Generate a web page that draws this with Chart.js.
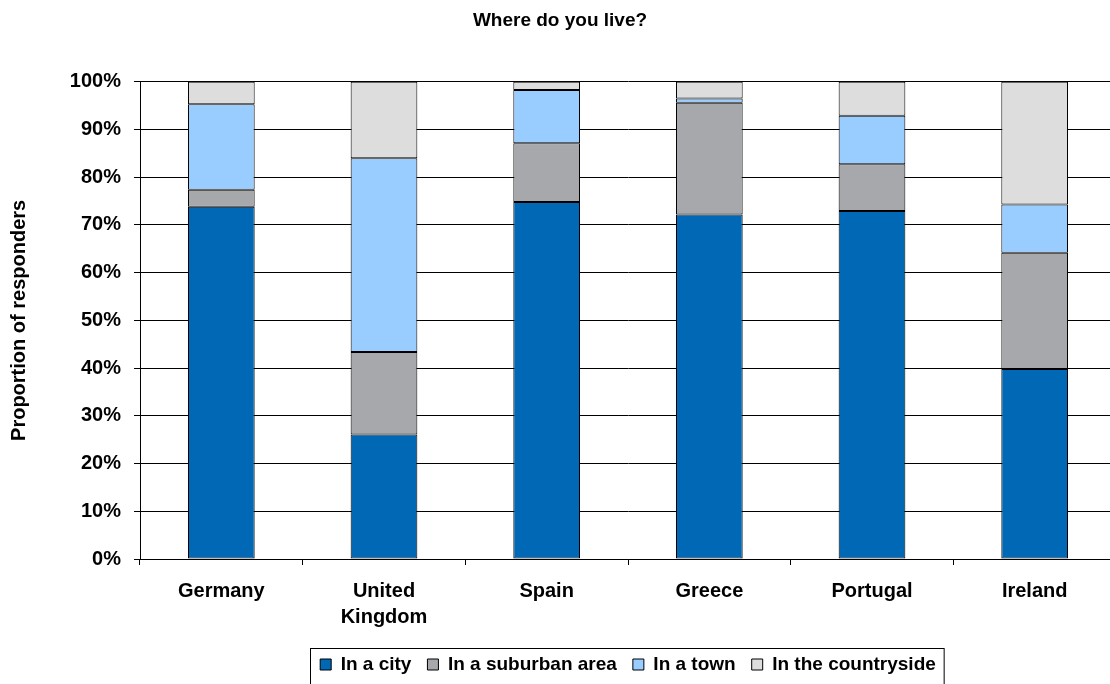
<!DOCTYPE html>
<html>
<head>
<meta charset="utf-8">
<script src="https://cdn.jsdelivr.net/npm/chart.js@4/dist/chart.umd.min.js"></script>
<style>
  html, body { margin: 0; padding: 0; background: #fff; overflow: hidden; }
</style>
</head>
<body>
<canvas id="liveChart" width="1116" height="684"></canvas>
<script>
const countries = ['Germany', ['United', 'Kingdom'], 'Spain', 'Greece', 'Portugal', 'Ireland']
const city = [73.8, 26.1, 74.8, 72.2, 72.9, 39.8]
const suburban = [3.6, 17.3, 12.3, 23.4, 9.8, 24.4]
const town = [17.9, 40.6, 11.2, 0.9, 10.2, 10.1]
const countryside = [4.7, 16.0, 1.7, 3.5, 7.1, 25.7]

const font = 'Liberation Sans, Arial, sans-serif'

// box around the legend, like the excel original
const legendBorder = {
    id: 'legendBorder',
    afterDraw(chart) {
        const boxes = chart.legend.legendHitBoxes
        if (!boxes || !boxes.length) return
        const left = Math.min(...boxes.map(b => b.left)) - 10
        const right = Math.max(...boxes.map(b => b.left + b.width)) + 8
        const top = boxes[0].top - 7
        const ctx = chart.ctx
        ctx.save()
        ctx.strokeStyle = '#000'
        ctx.lineWidth = 1
        ctx.strokeRect(Math.round(left) + 0.5, Math.round(top) + 0.5, right - left, 60)
        ctx.restore()
    }
}

const ctx = document.getElementById('liveChart').getContext('2d')
new Chart(ctx, {
    type: 'bar',
    data: {
        labels: countries,
        datasets: [
            { label: 'In a city', data: city, backgroundColor: '#0068B4' },
            { label: 'In a suburban area', data: suburban, backgroundColor: '#A6A8AC' },
            { label: 'In a town', data: town, backgroundColor: '#99CCFF' },
            { label: 'In the countryside', data: countryside, backgroundColor: '#DDDDDD' }
        ].map(d => Object.assign(d, {
            borderColor: '#000',
            borderWidth: 1,
            borderSkipped: false,
            barPercentage: 0.41,
            categoryPercentage: 1
        }))
    },
    options: {
        responsive: false,
        animation: false,
        layout: { padding: { top: 9, right: 0, left: 4, bottom: 0 } },
        plugins: {
            title: {
                display: true,
                text: 'Where do you live?',
                color: '#000',
                font: { family: font, size: 19, weight: 'bold' },
                padding: { top: 0, bottom: 50 }
            },
            legend: {
                position: 'bottom',
                fullSize: false,
                labels: {
                    color: '#000',
                    font: { family: font, size: 19, weight: 'bold' },
                    boxWidth: 11,
                    boxHeight: 11,
                    padding: 16,
                    generateLabels(chart) {
                        return chart.data.datasets.map((d, i) => ({
                            text: d.label,
                            fillStyle: d.backgroundColor,
                            strokeStyle: '#000',
                            lineWidth: 1,
                            datasetIndex: i
                        }))
                    }
                }
            },
            tooltip: { enabled: false }
        },
        scales: {
            x: {
                stacked: true,
                border: { color: '#000', width: 1 },
                grid: { offset: true, drawOnChartArea: false, color: '#000', tickLength: 6 },
                ticks: { color: '#000', font: { family: font, size: 20, weight: 'bold', lineHeight: 1.3 }, padding: 13, maxRotation: 0 },
                afterFit(scale) { scale.height = 80 }
            },
            y: {
                stacked: true,
                min: 0,
                max: 100,
                border: { color: '#000', width: 1 },
                grid: { color: '#000', tickLength: 6 },
                ticks: {
                    stepSize: 10,
                    color: '#000',
                    font: { family: font, size: 20, weight: 'bold' },
                    padding: 13,
                    callback: v => v + '%'
                },
                title: {
                    display: true,
                    text: 'Proportion of responders',
                    color: '#000',
                    font: { family: font, size: 20, weight: 'bold' },
                    padding: { top: 3, bottom: 22 }
                },
                afterFit(scale) { scale.width = 136 }
            }
        }
    },
    plugins: [legendBorder]
})
</script>
</body>
</html>
